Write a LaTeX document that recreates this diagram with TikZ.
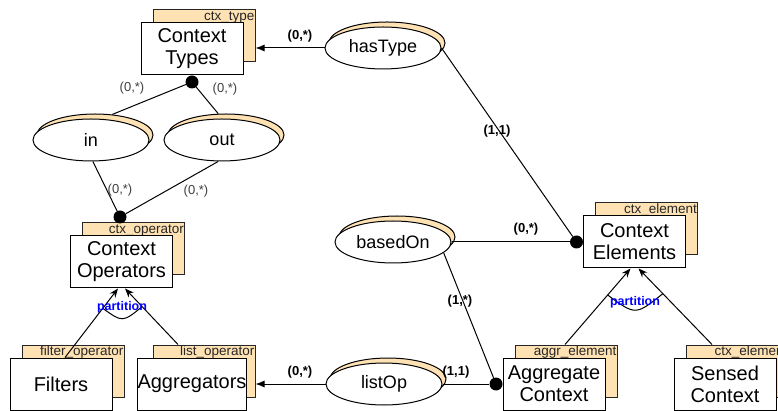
\documentclass[tikz,border=0pt]{standalone}
\usepackage{fontspec}
\setmainfont{Liberation Sans}
\usetikzlibrary{shapes.geometric,arrows.meta,calc}
\definecolor{peach}{RGB}{255,226,180}
\definecolor{partblue}{RGB}{0,0,255}

% entity: shadow box with its type tag, then the white front box
\newcommand\erentity[5]{%
  \node[back] (#1-b) at (#2+12,#3-13) {};
  \begin{scope}
    \clip (#1-b.north west) rectangle (#1-b.south east);
    \node[tag] (#1-t) at ($(#1-b.north east)+(-1,11)$) {#5};
  \end{scope}
  \node[front] (#1) at (#2,#3) {#4};
}
% relationship: shadow ellipse, then the white front ellipse
\newcommand\relship[4]{%
  \node[relback] (#1-b) at (#2+4,#3-5) {};
  \node[rel] (#1) at (#2,#3) {#4};
}

\begin{document}
\begin{tikzpicture}[x=1pt,y=-1pt,
  front/.style={draw, line width=1pt, fill=white, minimum width=102pt,
    minimum height=52pt, inner sep=0pt, align=center,
    font=\fontsize{20}{22}\selectfont},
  back/.style={draw=black!85, line width=1pt, fill=peach, minimum width=102pt,
    minimum height=52pt, inner sep=0pt},
  tag/.style={font=\fontsize{13.5}{13.5}\selectfont, text=black!85,
    anchor=base east, inner sep=0pt},
  rel/.style={ellipse, draw, line width=1pt, fill=white, minimum width=116pt,
    minimum height=42pt, inner sep=0pt, font=\fontsize{18}{18}\selectfont},
  relback/.style={ellipse, draw, line width=1pt, fill=peach,
    minimum width=116pt, minimum height=42pt, inner sep=0pt},
  dot/.style={circle, fill=black, minimum size=13pt, inner sep=0pt},
  card/.style={font=\bfseries\fontsize{13}{13}\selectfont, inner sep=0pt},
  cardlight/.style={font=\fontsize{13}{13}\selectfont, text=black!75, inner sep=0pt},
  part/.style={font=\bfseries\fontsize{12.5}{13}\selectfont, text=partblue, inner sep=0pt},
  link/.style={line width=1pt},
  ref/.style={line width=1pt, -{Latex[length=9pt,width=7pt]}},
  isa/.style={line width=1pt, -{Stealth[length=9pt,width=7pt]}}
]
\useasboundingbox (0,0) rectangle (778,411);
\clip (0,0) rectangle (778,411);

% entities
\erentity{types}{192}{49}{Context\\Types}{ctx\_type}
\erentity{ops}{121.5}{262}{Context\\Operators}{ctx\_operator}
\erentity{filters}{61}{384}{Filters}{filter\_operator}
\erentity{aggs}{192}{384}{Aggregators}{list\_operator}
\erentity{elems}{634.5}{242}{Context\\Elements}{ctx\_element}
\erentity{aggr}{554}{384}{Aggregate\\Context}{aggr\_element}
\erentity{sensed}{725}{384}{Sensed\\Context}{ctx\_element}

% relationships
\relship{hasType}{383}{48}{hasType}
\relship{rin}{91}{140}{in}
\relship{rout}{222}{140}{out}
\relship{basedOn}{393}{242}{basedOn}
\relship{listOp}{384}{384}{listOp}

% participation dots
\node[dot] (tdot) at ($(types.south)+(0,6.5)$) {};
\node[dot] (odot) at (120,217) {};
\node[dot] (edot) at ($(elems.west)+(-6.5,0)$) {};
\node[dot] (adot) at ($(aggr.west)+(-6.5,0)$) {};

% relationship links
\draw[ref] (hasType.west) -- (hasType.west -| types-b.east);
\draw[link] (hasType.east) -- (edot);
\draw[link] (tdot) -- (rin-b.50);
\draw[link] (tdot) -- (rout-b.110);
\draw[link] (rin.-85) -- (odot);
\draw[link] (rout.-100) -- (odot);
\draw[link] (basedOn.east) -- (edot);
\draw[link] (basedOn.-12) -- (adot);
\draw[link] (listOp.east) -- (adot);
\draw[ref] (listOp.west) -- (listOp.west -| aggs-b.east);

% partition of the context operators
\coordinate (opsL) at ($(ops.south)+(-3.5,0)$);
\coordinate (opsR) at ($(ops.south)+(3.5,0)$);
\coordinate (fltTop) at ($(filters.north)+(4,0)$);
\coordinate (aggTop) at ($(aggs-b.north)+(-26,0)$);
\draw[isa] (fltTop) -- (opsL);
\draw[isa] (aggTop) -- (opsR);
\draw[link] ($(opsL)!25pt!(fltTop)$) .. controls ($(ops.south)+(1,34)$)
  .. ($(opsR)!25pt!(aggTop)$);

% partition of the context elements
\coordinate (elL) at ($(elems.south)+(-4,0)$);
\coordinate (elR) at ($(elems.south)+(4,0)$);
\coordinate (agrTop) at ($(aggr-b.north)+(-1,0)$);
\coordinate (senTop) at ($(sensed-b.north)+(-25,0)$);
\draw[isa] (agrTop) -- (elL);
\draw[isa] (senTop) -- (elR);
\draw[link] ($(elL)!35pt!(agrTop)$) .. controls ($(elems.south)+(1,47)$)
  .. ($(elR)!35pt!(senTop)$);

% cardinalities
\node[card] (k1) at (300,36) {(0,*)};
\node[card] (k2) at (497,131) {(1,1)};
\node[cardlight] (k3) at (132,88) {(0,*)};
\node[cardlight] (k4) at (225,89) {(0,*)};
\node[cardlight] (k5) at (120,190) {(0,*)};
\node[cardlight] (k6) at (196,191) {(0,*)};
\node[card] (k7) at (526,229) {(0,*)};
\node[card] (k8) at (460,301) {(1,*)};
\node[card] (k9) at (300,372) {(0,*)};
\node[card] (k10) at (456,372) {(1,1)};
\node[part] (p1) at (122,307) {partition};
\node[part] (p2) at (635,302) {partition};
\end{tikzpicture}
\end{document}
